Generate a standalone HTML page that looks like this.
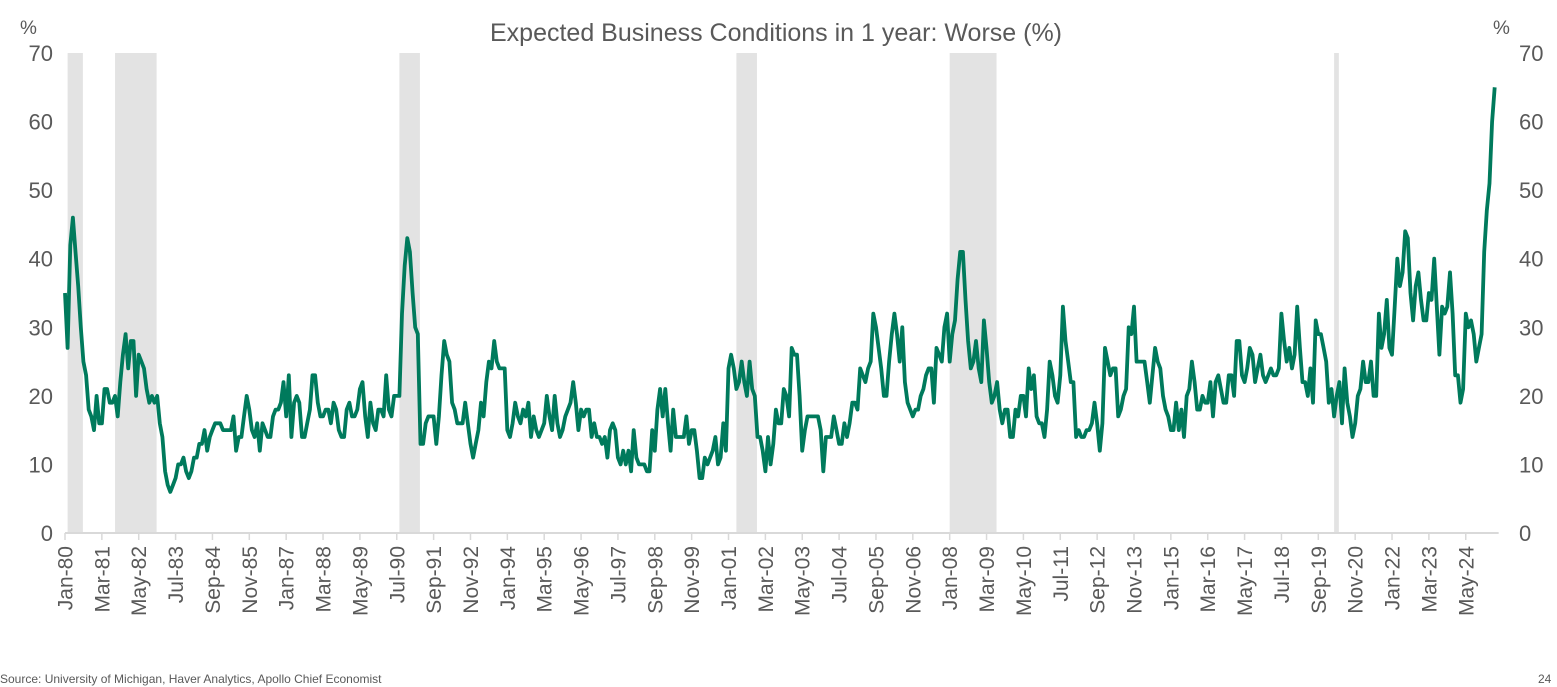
<!DOCTYPE html>
<html><head><meta charset="utf-8"><style>
body{margin:0;background:#fff;}
svg{display:block;font-family:"Liberation Sans",sans-serif;}
</style></head><body>
<svg id="chart" width="1557" height="687" viewBox="0 0 1557 687">
<text x="776" y="41" text-anchor="middle" font-size="25" fill="#595959">Expected Business Conditions in 1 year: Worse (%)</text>
<text x="20" y="34" font-size="19" fill="#595959">%</text>
<text x="1493" y="34" font-size="19" fill="#595959">%</text>
<g id="bands"></g><g id="axes"></g><g id="series"></g>
<text x="0" y="683" font-size="12" fill="#595959">Source: University of Michigan, Haver Analytics, Apollo Chief Economist</text>
<text x="1538" y="683" font-size="12" fill="#595959">24</text>
</svg>
<script>
const startYear = 1980;
const values = [
35,27,42,46,41,36,30,25,23,18,17,15,
20,16,16,21,21,19,19,20,17,22,26,29,
24,28,28,20,26,25,24,21,19,20,19,20,
16,14,9,7,6,7,8,10,10,11,9,8,
9,11,11,13,13,15,12,14,15,16,16,16,
15,15,15,15,17,12,14,14,17,20,18,15,
14,16,12,16,15,14,14,17,18,18,19,22,
17,23,14,19,20,19,14,14,16,18,23,23,
19,17,17,18,18,16,19,18,15,14,14,18,
19,17,17,18,21,22,17,14,19,16,15,18,
18,17,23,18,17,20,20,20,32,39,43,41,
35,30,29,13,13,16,17,17,17,13,17,23,
28,26,25,19,18,16,16,16,19,16,13,11,
13,15,19,17,22,25,24,28,25,24,24,24,
15,14,16,19,17,16,18,17,19,14,17,15,
14,15,16,20,17,15,20,16,14,15,17,18,
19,22,19,15,18,17,18,18,14,16,14,14,
13,14,11,15,16,15,11,10,12,10,12,9,
15,11,10,10,10,9,9,15,12,18,21,17,
21,16,12,18,14,14,14,14,17,13,15,15,
12,8,8,11,10,11,12,14,10,11,16,12,
24,26,24,21,22,25,22,20,25,21,20,14,
14,12,9,14,10,13,18,16,16,21,20,17,
27,26,26,20,12,15,17,17,17,17,17,15,
9,14,14,14,17,15,13,13,16,14,16,19,
19,18,24,23,22,24,25,32,30,27,24,20,
20,25,29,32,29,25,30,22,19,18,17,18,
18,20,21,23,24,24,19,27,26,25,30,32,
25,29,31,37,41,41,34,28,24,25,28,24,
22,31,27,22,19,20,22,18,16,18,18,14,
14,18,17,20,20,17,24,21,23,17,16,16,
14,18,25,23,20,19,23,33,28,25,22,22,
14,15,14,14,15,15,16,19,16,12,16,27,
25,23,24,24,17,18,20,21,30,29,33,25,
25,25,25,22,19,23,27,25,24,20,18,17,
15,15,19,15,18,14,20,21,25,22,18,18,
20,19,19,22,17,22,23,21,19,19,23,23,
20,28,28,23,22,24,27,26,22,24,26,23,
22,23,24,23,23,24,32,28,25,27,24,26,
33,27,22,22,20,24,19,31,29,29,27,25,
19,21,17,20,22,16,24,19,17,14,16,20,
21,25,22,22,25,20,20,32,27,29,34,27,
26,33,40,36,38,44,43,35,31,36,38,34,
31,31,35,34,40,33,26,33,32,33,38,32,
23,23,19,21,32,30,31,29,25,27,29,41,
47,51,60,65
];
const recessionStarts = ["1980-02","1981-08","1990-08","2001-04","2008-01","2020-03"];
const recessionEnds = ["1980-07","1982-11","1991-03","2001-11","2009-06","2020-04"];
const yTicks = [0,10,20,30,40,50,60,70];
const monthNames = ["Jan","Feb","Mar","Apr","May","Jun","Jul","Aug","Sep","Oct","Nov","Dec"];

const NS = "http://www.w3.org/2000/svg";
const X0 = 65, PXM = 2.633, Y0 = 533, PXU = 6.857;
const xAt = m => X0 + m * PXM;
const yAt = v => Y0 - v * PXU;
const mIdx = s => (parseInt(s.slice(0,4)) - startYear) * 12 + parseInt(s.slice(5)) - 1;
function mk(tag, attrs, parent){const e=document.createElementNS(NS,tag);for(const k in attrs)e.setAttribute(k,attrs[k]);parent.appendChild(e);return e;}

const bands = document.getElementById("bands");
recessionStarts.forEach((s,i)=>{
  const a = xAt(mIdx(s)), b = xAt(mIdx(recessionEnds[i]) + 0.8);
  const r = mk("rect",{x:a,y:yAt(70),width:Math.max(b-a,4),height:yAt(0)-yAt(70),fill:"#e3e3e3"},bands);
  
  
});

const axes = document.getElementById("axes");
const lastM = values.length;
const base = mk("line",{x1:X0,y1:Y0,x2:xAt(lastM+0.5),y2:Y0,stroke:"#d9d9d9","stroke-width":2},axes);


yTicks.forEach(v=>{
  const t1 = mk("text",{x:53,y:yAt(v)+8,"text-anchor":"end","font-size":22,fill:"#595959"},axes);
  t1.textContent = v;
  
  
  const t2 = mk("text",{x:1519,y:yAt(v)+8,"font-size":22,fill:"#595959"},axes);
  t2.textContent = v;
  
  
});
for(let m=0; m<lastM; m+=14){
  const x = xAt(m);
  const tk = mk("line",{x1:x,y1:Y0,x2:x,y2:Y0+7,stroke:"#d9d9d9","stroke-width":1.5},axes);
  
  
  const yr = startYear + Math.floor(m/12);
  const lbl = monthNames[m%12] + "-" + String(yr%100).padStart(2,"0");
  const t = mk("text",{x:0,y:0,"text-anchor":"end","font-size":21,fill:"#595959",transform:`translate(${x+7.5},${Y0+13}) rotate(-90)`},axes);
  t.textContent = lbl;
  
  
}

const series = document.getElementById("series");
const pts = values.map((v,i)=>xAt(i).toFixed(1)+","+yAt(v).toFixed(1)).join(" ");
const line = mk("polyline",{points:pts,fill:"none",stroke:"#007a5c","stroke-width":3.8,"stroke-linejoin":"round"},series);


</script>
</body></html>
